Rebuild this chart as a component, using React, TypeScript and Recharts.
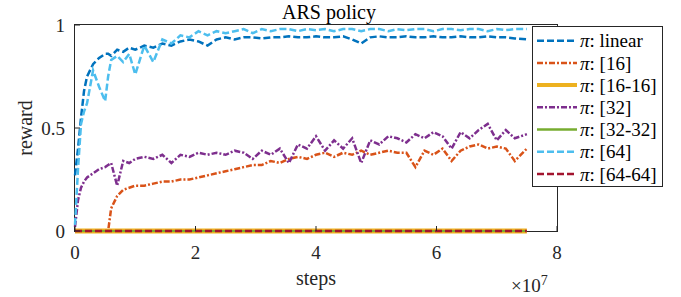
import React from "react";
import { LineChart, Line, XAxis, YAxis, Legend } from "recharts";

// steps in millions
const STEPS_M = [
  0, 0.5, 1, 1.5, 2, 3, 4, 5, 5.5, 6, 7, 8, 9, 10, 11.5, 13, 14.5, 16, 17.5, 19, 20.5, 22, 23.5, 25, 26.5, 28,
  29.5, 31, 32.5, 34, 35.5, 37, 38.5, 40, 41.5, 43, 44.5, 46, 47.5, 49, 50.5, 52, 53.5, 55, 56.5, 58,
  59.5, 61, 62.5, 64, 65.5, 67, 68.5, 70, 71.5, 73, 75,
];

const LINEAR = [
  0.27, 0.4, 0.55, 0.68, 0.75, 0.81, 0.84, 0.86, 0.86, 0.85, 0.88, 0.87, 0.89, 0.88,
  0.9, 0.89, 0.91, 0.9, 0.92, 0.93, 0.92, 0.9, 0.93, 0.94, 0.93, 0.94, 0.94, 0.935, 0.94, 0.94, 0.945,
  0.94, 0.94, 0.945, 0.94, 0.94, 0.945, 0.93, 0.91, 0.94, 0.945, 0.94, 0.94, 0.945, 0.94, 0.94, 0.945,
  0.94, 0.94, 0.945, 0.94, 0.94, 0.945, 0.94, 0.94, 0.935, 0.93,
];

const P16 = [
  0, 0, 0, 0, 0, 0, 0, 0, 0, 0.11, 0.17, 0.2, 0.21, 0.22,
  0.22, 0.23, 0.24, 0.24, 0.25, 0.25, 0.26, 0.27, 0.28, 0.29, 0.3, 0.31, 0.32, 0.32, 0.34, 0.33, 0.35,
  0.36, 0.35, 0.37, 0.38, 0.36, 0.38, 0.37, 0.39, 0.37, 0.38, 0.39, 0.38, 0.38, 0.31, 0.39, 0.37, 0.4,
  0.34, 0.39, 0.41, 0.42, 0.4, 0.41, 0.4, 0.34, 0.4,
];

const P32 = [
  0.02, 0.15, 0.21, 0.24, 0.26, 0.28, 0.3, 0.31, 0.32, 0.33, 0.22, 0.34, 0.33, 0.35,
  0.36, 0.35, 0.37, 0.33, 0.37, 0.36, 0.38, 0.37, 0.38, 0.37, 0.39, 0.38, 0.35, 0.39, 0.37, 0.4, 0.33,
  0.42, 0.4, 0.46, 0.39, 0.44, 0.4, 0.45, 0.33, 0.44, 0.42, 0.46, 0.45, 0.43, 0.47, 0.45, 0.48, 0.46,
  0.4, 0.48, 0.45, 0.49, 0.52, 0.44, 0.49, 0.45, 0.47,
];

const P64 = [
  0.03, 0.3, 0.52, 0.58, 0.62, 0.78, 0.7, 0.63, 0.75, 0.83, 0.85, 0.82, 0.86, 0.76,
  0.9, 0.82, 0.93, 0.91, 0.95, 0.94, 0.97, 0.95, 0.97, 0.96, 0.97, 0.98, 0.96, 0.98, 0.97, 0.98, 0.98,
  0.97, 0.98, 0.975, 0.98, 0.97, 0.98, 0.98, 0.97, 0.98, 0.98, 0.97, 0.98, 0.975, 0.98, 0.98, 0.97,
  0.98, 0.98, 0.975, 0.98, 0.98, 0.97, 0.98, 0.975, 0.98, 0.98,
];

// the two-layer nets stay at zero the whole run
const FLAT_STEPS_M = [0, 75];
const FLAT_REWARD = [0, 0];

const X_TICKS = [0, 20, 40, 60, 80];
const Y_TICKS = [0, 0.5, 1];

const SERIES = [
  { key: "linear", name: "linear", color: "#0072BD", dash: "7 3", width: 2.5 },
  { key: "p16", name: "[16]", color: "#D95319", dash: "6 2 2 2", width: 2.5 },
  { key: "p1616", name: "[16-16]", color: "#EDB120", dash: undefined, width: 5 },
  { key: "p32", name: "[32]", color: "#7E2F8E", dash: "6 2 2 2", width: 2.5 },
  { key: "p3232", name: "[32-32]", color: "#77AC30", dash: undefined, width: 2 },
  { key: "p64", name: "[64]", color: "#4DBEEE", dash: "7 3", width: 2.5 },
  { key: "p6464", name: "[64-64]", color: "#A2142F", dash: "7 3", width: 2.5 },
];

const rows = STEPS_M.map((s, i) => ({
  x: s,
  linear: LINEAR[i],
  p16: P16[i],
  p32: P32[i],
  p64: P64[i],
}));

const flatRows = FLAT_STEPS_M.map((s, i) => ({ x: s, v: FLAT_REWARD[i] }));

const FONT = "Liberation Serif, Times New Roman, serif";
const AXIS = "#262626";

function LegendBox() {
  return (
    <svg width={131} height={161} style={{ display: "block" }}>
      <rect x={0.5} y={0.5} width={130} height={160} fill="#fff" stroke={AXIS} strokeWidth={1} />
      {SERIES.map((s, i) => {
        const y = 14.7 + i * 22.2;
        return (
          <g key={s.key}>
            <line
              x1={5}
              x2={45}
              y1={y}
              y2={y}
              stroke={s.color}
              strokeWidth={s.width > 3 ? 4 : 2.5}
              strokeDasharray={s.dash}
            />
            <text x={48} y={y} dy="0.35em" style={{ fontFamily: FONT, fontSize: 19 }} fill="#000">
              <tspan fontStyle="italic">π</tspan>: {s.name}
            </text>
          </g>
        );
      })}
    </svg>
  );
}

export default function App() {
  return (
    <div style={{ position: "absolute", left: 0, top: 0, width: 681, height: 297, background: "#fff" }}>
      {/* axes box sits under the lines, like matlab */}
      <div
        style={{
          position: "absolute",
          left: 74,
          top: 24,
          width: 484,
          height: 208,
          border: `1px solid ${AXIS}`,
          boxSizing: "border-box",
        }}
      />
      <LineChart
        width={681}
        height={297}
        data={rows}
        margin={{ top: 25, right: 124, left: 15, bottom: 0 }}
        style={{ fontFamily: FONT }}
      >
        <XAxis
          dataKey="x"
          type="number"
          domain={[0, 80]}
          ticks={X_TICKS}
          tickFormatter={(v) => String(v / 10)}
          height={66}
          axisLine={false}
          tickLine={{ stroke: AXIS }}
          tickSize={-5}
          tickMargin={20}
          tick={{ fontSize: 19, fontFamily: FONT, fill: AXIS }}
          label={{ value: "steps", position: "insideBottom", offset: 12, fontSize: 20, fontFamily: FONT, fill: AXIS }}
        />
        <XAxis
          xAxisId="top"
          orientation="top"
          type="number"
          domain={[0, 80]}
          ticks={X_TICKS}
          height={0}
          axisLine={false}
          tickLine={{ stroke: AXIS }}
          tickSize={-5}
          tickFormatter={() => ""}
        />
        <YAxis
          type="number"
          domain={[0, 1]}
          ticks={Y_TICKS}
          width={60}
          axisLine={false}
          tickLine={{ stroke: AXIS }}
          tickSize={-5}
          tickMargin={15}
          tick={{ fontSize: 19, fontFamily: FONT, fill: AXIS }}
          label={{
            value: "reward",
            angle: -90,
            position: "insideLeft",
            offset: 10,
            style: { textAnchor: "middle" },
            fontSize: 20,
            fontFamily: FONT,
            fill: AXIS,
          }}
        />
        <YAxis
          yAxisId="r"
          orientation="right"
          type="number"
          domain={[0, 1]}
          ticks={Y_TICKS}
          width={0}
          axisLine={false}
          tickLine={{ stroke: AXIS }}
          tickSize={-5}
          tickFormatter={() => ""}
        />
        <Legend
          layout="vertical"
          align="center"
          verticalAlign="middle"
          wrapperStyle={{ left: 532, top: 26, width: 131, height: 161 }}
          content={() => <LegendBox />}
        />
        {SERIES.map((s) => {
          const flat = s.key === "p1616" || s.key === "p3232" || s.key === "p6464";
          return (
            <Line
              key={s.key}
              data={flat ? flatRows : undefined}
              dataKey={flat ? "v" : s.key}
              name={s.name}
              type="linear"
              stroke={s.color}
              strokeWidth={s.width}
              strokeDasharray={s.dash}
              strokeLinejoin="miter"
              dot={false}
              activeDot={false}
              isAnimationActive={false}
            />
          );
        })}
      </LineChart>
      <div
        style={{
          position: "absolute",
          left: 229,
          width: 200,
          top: 0,
          textAlign: "center",
          fontFamily: FONT,
          fontSize: 20,
          lineHeight: "24px",
          color: "#000",
        }}
      >
        ARS policy
      </div>
      <div
        style={{
          position: "absolute",
          left: 511,
          top: 270,
          fontFamily: FONT,
          fontSize: 19,
          lineHeight: "22px",
          color: AXIS,
          whiteSpace: "nowrap",
        }}
      >
        ×10<sup style={{ fontSize: 14, verticalAlign: "7px" }}>7</sup>
      </div>
    </div>
  );
}
